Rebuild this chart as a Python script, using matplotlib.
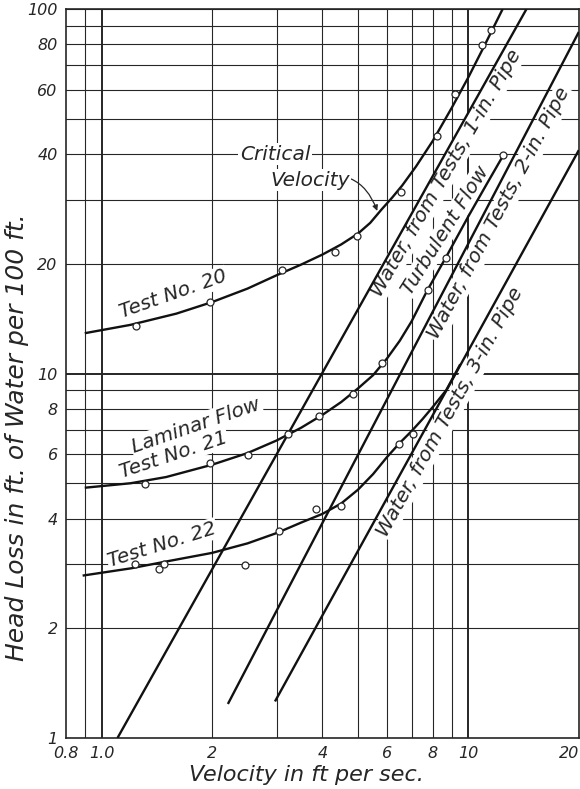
import matplotlib
matplotlib.use("Agg")
import matplotlib.pyplot as plt
from matplotlib.ticker import NullLocator

# Test No. 20 - drawn curve and observed points
t20_curve_v = [0.9, 1.2, 1.6, 2.0, 2.5, 3.0, 3.5, 4.0, 4.5, 5.0, 5.4, 5.8, 6.2, 6.6, 7.2, 8.0, 9.0, 10.0, 11.0, 12.4]
t20_curve_h = [12.9, 13.6, 14.6, 15.7, 17.1, 18.6, 19.9, 21.2, 22.6, 24.2, 25.9, 28.2, 30.4, 32.8, 37.0, 43.5, 53.5, 65.0, 78.5, 100]
t20_pts_v = [1.245, 1.98, 3.10, 4.32, 4.96, 6.53, 8.19, 9.22, 10.9, 11.5]
t20_pts_h = [13.5, 15.7, 19.2, 21.5, 23.8, 31.4, 44.8, 58.4, 79.6, 87.5]

# Test No. 21
t21_curve_v = [0.9, 1.2, 1.5, 2.0, 2.5, 3.0, 3.5, 4.0, 4.5, 5.0, 5.5, 6.0, 6.5, 7.0, 7.7, 8.7, 10.0, 11.2, 12.45]
t21_curve_h = [4.86, 5.0, 5.2, 5.62, 6.05, 6.55, 7.1, 7.7, 8.35, 9.1, 9.9, 11.0, 12.3, 13.9, 16.8, 20.9, 27.0, 33.0, 39.7]
t21_pts_v = [1.31, 1.98, 2.51, 3.22, 3.91, 4.84, 5.80, 7.74, 8.71, 12.45]
t21_pts_h = [4.99, 5.69, 5.99, 6.84, 7.67, 8.81, 10.7, 17.0, 20.8, 39.7]

# Test No. 22
t22_curve_v = [0.888, 1.2, 1.5, 2.0, 2.5, 3.0, 3.5, 4.0, 4.5, 5.0, 5.5, 6.0, 6.5, 7.0, 7.5, 8.0, 8.7, 9.5]
t22_curve_h = [2.79, 2.92, 3.05, 3.22, 3.42, 3.65, 3.90, 4.12, 4.40, 4.80, 5.30, 5.90, 6.45, 6.95, 7.5, 8.1, 9.0, 10.6]
t22_pts_v = [1.23, 1.43, 1.48, 2.46, 3.04, 3.84, 4.49, 6.45, 7.05]
t22_pts_h = [3.01, 2.91, 3.01, 2.99, 3.70, 4.26, 4.34, 6.42, 6.84]

# water lines from tests (1-in, 2-in, 3-in pipe)
water1_v = [1.105, 14.4]
water1_h = [1.0, 100]
water2_v = [2.21, 20.0]
water2_h = [1.24, 86.5]
water3_v = [2.97, 20.0]
water3_h = [1.26, 41.0]

xticks = [0.8, 1.0, 2, 4, 6, 8, 10, 20]
xtick_labels = ["0.8", "1.0", "2", "4", "6", "8", "10", "20"]
yticks = [1, 2, 4, 6, 8, 10, 20, 40, 60, 80, 100]
ytick_labels = ["1", "2", "4", "6", "8", "10", "20", "40", "60", "80", "100"]
xgrid = [0.9, 1, 2, 3, 4, 5, 6, 7, 8, 9, 10]
ygrid = [1, 2, 3, 4, 5, 6, 7, 8, 9, 10, 20, 30, 40, 50, 60, 70, 80, 90, 100]

ink = "#262626"
plt.rcParams['font.family'] = ['DejaVu Sans']
fig = plt.figure(figsize=(5.8, 7.89), dpi=100)
ax = fig.add_axes([0.1138, 0.0646, 0.8842, 0.924])
ax.set_xscale("log")
ax.set_yscale("log")
ax.set_xlim(0.8, 20)
ax.set_ylim(1, 100)

# hand-drawn style grid
for x in xgrid:
    lw = 1.4 if x in (1, 10) else 0.8
    ax.axvline(x, color=ink, lw=lw, zorder=1)
for y in ygrid:
    lw = 1.4 if y == 10 else 0.8
    ax.axhline(y, color=ink, lw=lw, zorder=1)

line_kw = dict(color="#111111", lw=1.7, zorder=3, solid_capstyle="butt")
ax.plot(t20_curve_v, t20_curve_h, **line_kw)
ax.plot(t21_curve_v, t21_curve_h, **line_kw)
ax.plot(t22_curve_v, t22_curve_h, **line_kw)
ax.plot(water1_v, water1_h, **line_kw)
ax.plot(water2_v, water2_h, **line_kw)
ax.plot(water3_v, water3_h, **line_kw)

pt_kw = dict(ls="none", marker="o", ms=5, mfc="white", mec=ink, mew=0.9, zorder=4)
ax.plot(t20_pts_v, t20_pts_h, **pt_kw)
ax.plot(t21_pts_v, t21_pts_h, **pt_kw)
ax.plot(t22_pts_v, t22_pts_h, **pt_kw)

ax.xaxis.set_minor_locator(NullLocator())
ax.yaxis.set_minor_locator(NullLocator())
ax.set_xticks(xticks)
ax.set_xticklabels(xtick_labels)
ax.set_yticks(yticks)
ax.set_yticklabels(ytick_labels)
ax.tick_params(length=0, labelsize=11.5, pad=6, colors=ink)
for lab in ax.get_xticklabels() + ax.get_yticklabels():
    lab.set_fontstyle("italic")
ax.get_xticklabels()[-1].set_horizontalalignment("right")
for s in ax.spines.values():
    s.set_linewidth(1.2)
    s.set_color(ink)

txt_kw = dict(fontsize=14.5, fontstyle="italic", color=ink, ha="center", va="center",
              rotation_mode="anchor", zorder=2,
              bbox=dict(facecolor="white", edgecolor="none", pad=1))
ax.text(1.569, 16.5, "Test No. 20", rotation=19.5, **txt_kw)
ax.text(1.81, 7.2, "Laminar Flow", rotation=19, **txt_kw)
ax.text(1.569, 5.99, "Test No. 21", rotation=18.5, **txt_kw)
ax.text(1.465, 3.39, "Test No. 22", rotation=17.5, **txt_kw)
ax.text(2.97, 40.0, "Critical", **txt_kw)
ax.annotate("Velocity", xy=(5.66, 27.7), xytext=(3.70, 33.9), textcoords="data",
            arrowprops=dict(arrowstyle="-|>", color=ink, lw=0.9,
                            connectionstyle="arc3,rad=-0.5", shrinkA=0, shrinkB=1,
                            mutation_scale=8),
            **txt_kw)
ax.text(8.71, 35.4, "Water, from Tests, 1-in. Pipe", rotation=60, **txt_kw)
ax.text(8.66, 24.7, "Turbulent Flow", rotation=58, **txt_kw)
ax.text(12.14, 27.5, "Water, from Tests, 2-in. Pipe", rotation=62, **txt_kw)
ax.text(8.93, 7.86, "Water, from Tests, 3-in. Pipe", rotation=61, **txt_kw)

fig.text(306 / 580, 1 - 775 / 789, "Velocity in ft per sec.", fontsize=16, fontstyle="italic",
         color=ink, ha="center", va="center")
fig.text(17 / 580, 1 - 437 / 789, "Head Loss in ft. of Water per 100 ft.", fontsize=18,
         fontstyle="italic", color=ink, ha="center", va="center", rotation=90)

fig.savefig("out.png", dpi=100, facecolor="white")
